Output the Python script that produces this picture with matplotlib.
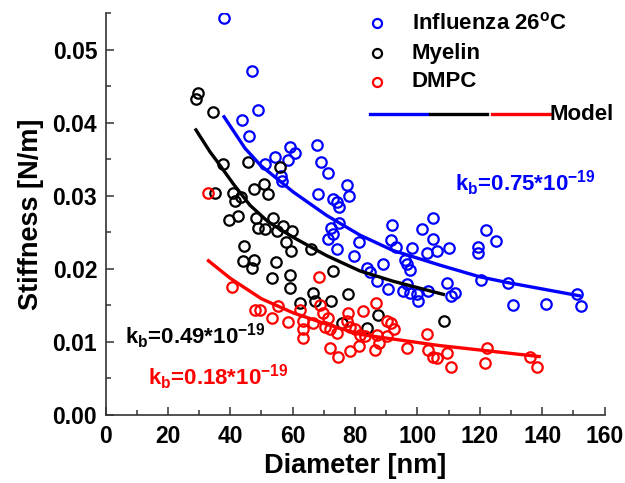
import matplotlib
matplotlib.use('Agg')
import matplotlib.pyplot as plt
from matplotlib.ticker import MultipleLocator

plt.rcParams['font.family'] = ['Liberation Sans', 'DejaVu Sans']
plt.rcParams['font.weight'] = 'bold'
plt.rcParams['mathtext.fontset'] = 'custom'
plt.rcParams['mathtext.rm'] = 'Liberation Sans:bold'
plt.rcParams['mathtext.it'] = 'Liberation Sans:bold'
plt.rcParams['mathtext.bf'] = 'Liberation Sans:bold'
plt.rcParams['mathtext.default'] = 'regular'

# measured vesicles: diameter [nm], stiffness [N/m]
flu_d = [38.1, 46.9, 49.0, 43.6, 46.1, 51.2, 54.3, 58.6, 59.1, 60.7, 67.7, 69.0, 71.4,
         56.2, 56.7, 77.3, 78.1, 68.2, 72.8, 74.1, 74.9, 91.7, 105.1, 101.5, 74.9, 72.2,
         72.8, 71.4, 81.3, 91.4, 93.0, 104.9, 106.2, 98.1, 102.9, 74.1, 79.7, 89.0, 96.0,
         96.7, 97.6, 83.7, 84.8, 86.9, 90.7, 96.5, 97.6, 99.7, 100.3, 103.5, 95.4, 109.4,
         110.6, 112.0, 120.3, 129.1, 130.7, 141.2, 151.0, 152.4, 110.2, 122.0, 125.1,
         119.5, 119.5]
flu_k = [0.0543, 0.0471, 0.0417, 0.0403, 0.0382, 0.0344, 0.0353, 0.0349, 0.0366, 0.0358,
         0.0370, 0.0346, 0.0331, 0.0327, 0.0320, 0.0314, 0.0300, 0.0302, 0.0295, 0.0291,
         0.0284, 0.0260, 0.0269, 0.0255, 0.0262, 0.0256, 0.0247, 0.0241, 0.0237, 0.0240,
         0.0230, 0.0241, 0.0224, 0.0228, 0.0221, 0.0227, 0.0217, 0.0206, 0.0212, 0.0206,
         0.0199, 0.0201, 0.0195, 0.0183, 0.0172, 0.0179, 0.0167, 0.0165, 0.0156, 0.0169,
         0.0169, 0.0180, 0.0163, 0.0167, 0.0185, 0.0181, 0.0150, 0.0152, 0.0165, 0.0149,
         0.0228, 0.0253, 0.0238, 0.0230, 0.0222]

myelin_d = [29.5, 29.0, 34.4, 37.8, 45.8, 35.1, 40.8, 43.3, 41.5, 47.6, 50.8, 52.2, 39.6,
            42.4, 48.2, 49.0, 51.1, 44.4, 44.0, 47.6, 46.9, 55.9, 53.8, 54.9, 57.0, 59.7,
            57.9, 59.4, 65.9, 54.6, 53.3, 59.1, 72.8, 59.1, 66.4, 67.1, 62.3, 72.3, 77.8,
            87.4, 83.7, 75.7, 108.6]
myelin_k = [0.0441, 0.0433, 0.0415, 0.0343, 0.0346, 0.0304, 0.0304, 0.0298, 0.0293, 0.0309,
            0.0316, 0.0302, 0.0267, 0.0272, 0.0269, 0.0256, 0.0255, 0.0231, 0.0211, 0.0212,
            0.0201, 0.0339, 0.0270, 0.0252, 0.0258, 0.0252, 0.0236, 0.0225, 0.0227, 0.0209,
            0.0188, 0.0191, 0.0197, 0.0174, 0.0167, 0.0156, 0.0153, 0.0156, 0.0165, 0.0137,
            0.0119, 0.0126, 0.0128]

dmpc_d = [32.9, 68.5, 40.4, 47.9, 53.3, 49.5, 55.4, 58.6, 62.3, 63.4, 63.4, 63.4, 66.6,
          68.8, 69.8, 71.4, 70.4, 72.0, 74.1, 72.0, 74.6, 77.8, 77.3, 78.4, 80.0, 81.6,
          82.6, 83.2, 81.3, 78.4, 86.7, 86.9, 87.8, 86.4, 90.1, 91.5, 90.3, 92.6, 96.7,
          102.9, 103.5, 105.1, 106.2, 109.4, 110.6, 122.4, 121.6, 136.0, 138.4]
dmpc_k = [0.0304, 0.0189, 0.0175, 0.0143, 0.0133, 0.0144, 0.0149, 0.0127, 0.0144, 0.0128,
          0.0117, 0.0105, 0.0126, 0.0151, 0.0140, 0.0133, 0.0121, 0.0117, 0.0112, 0.0092,
          0.0079, 0.0140, 0.0128, 0.0121, 0.0117, 0.0110, 0.0142, 0.0108, 0.0095, 0.0088,
          0.0153, 0.0110, 0.0098, 0.0089, 0.0128, 0.0126, 0.0108, 0.0117, 0.0092, 0.0111,
          0.0089, 0.0079, 0.0078, 0.0085, 0.0065, 0.0091, 0.0071, 0.0079, 0.0065]

# model curves for each bending rigidity
flu_model_d = [38, 44.7, 49.6, 60.2, 70.9, 81.6, 92.2, 107.2, 120, 129.1, 152]
flu_model_k = [0.0408, 0.0365, 0.0342, 0.0305, 0.0273, 0.0246, 0.0225, 0.0205, 0.0189,
               0.0181, 0.0163]
myelin_model_d = [29, 33.5, 35.6, 41, 46.3, 52.2, 60.2, 70.9, 81.6, 92.2, 108.3]
myelin_model_k = [0.0390, 0.0360, 0.0348, 0.0316, 0.0287, 0.0264, 0.0243, 0.0218, 0.0197,
                  0.0183, 0.0165]
dmpc_model_d = [33, 40, 50, 60, 71, 82, 92, 107, 122, 139]
dmpc_model_k = [0.0211, 0.0187, 0.0159, 0.0140, 0.0124, 0.0110, 0.0104, 0.0095, 0.0088, 0.0080]

series = [
  ('Influenza 26$^\\mathregular{o}$C', flu_d, flu_k, '#0000FF'),
  ('Myelin', myelin_d, myelin_k, '#000000'),
  ('DMPC', dmpc_d, dmpc_k, '#FF0000'),
]
models = [
  (flu_model_d, flu_model_k, '#0000FF'),
  (myelin_model_d, myelin_model_k, '#000000'),
  (dmpc_model_d, dmpc_model_k, '#FF0000'),
]

fig = plt.figure(figsize=(6.25, 4.83), dpi=100)
ax = fig.add_axes([0.1688, 0.1408, 0.7987, 0.8323])

for label, d, k, color in series:
  ax.plot(d, k, 'o', mfc='none', mec=color, ms=7.5, mew=1.6, zorder=2)

for d, k, color in models:
  ax.plot(d, k, '-', color=color, lw=2.4, zorder=3)

ax.set_xlim(0, 160)
ax.set_ylim(0, 0.055)
ax.xaxis.set_major_locator(MultipleLocator(20))
ax.xaxis.set_minor_locator(MultipleLocator(10))
ax.yaxis.set_major_locator(MultipleLocator(0.01))
ax.yaxis.set_minor_locator(MultipleLocator(0.005))
ax.yaxis.set_major_formatter(plt.FuncFormatter(lambda v, p: '%.2f' % v))

for side in ('top', 'right'):
  ax.spines[side].set_visible(False)
for side in ('left', 'bottom'):
  ax.spines[side].set_linewidth(1.2)
  ax.spines[side].set_color('#333333')

ax.tick_params(which='both', direction='in', colors='#333333', width=1.1)
ax.tick_params(which='major', length=6, labelsize=16.5, labelcolor='black')
ax.tick_params(which='minor', length=3.5)
ax.tick_params(axis='x', which='major', pad=7)
ax.tick_params(axis='y', which='major', pad=6)

ax.set_xlabel('Diameter [nm]', fontsize=19.5, fontweight='bold', labelpad=4)
ax.set_ylabel('Stiffness [N/m]', fontsize=19.5, fontweight='bold', labelpad=6)

# hand-built key: one marker row per series, then the three model lines
rows_y = [0.9744, 0.8997, 0.829]
for (label, d, k, color), y in zip(series, rows_y):
  ax.plot([0.5435], [y], 'o', mfc='none', mec=color, ms=6.5, mew=1.6,
          transform=ax.transAxes, clip_on=False)
  ax.text(0.6134, y, label, transform=ax.transAxes, fontsize=16, fontweight='bold',
          va='center', ha='left')

key_segments = [(0.5304, 0.6440, '#0000FF'), (0.6500, 0.7642, '#000000'),
                (0.7742, 0.8904, '#FF0000')]
for x0, x1, color in key_segments:
  ax.plot([x0, x1], [0.748, 0.748], '-', color=color, lw=2.4, transform=ax.transAxes,
          clip_on=False)
ax.text(0.8904, 0.748, 'Model', transform=ax.transAxes, fontsize=16, fontweight='bold',
        va='center', ha='left')

ax.text(112, 0.0307, 'k$_\\mathregular{b}$=0.75*10$^\\mathregular{-19}$', color='#0000FF',
        fontsize=16, fontweight='bold')
ax.text(6.25, 0.00975, 'k$_\\mathregular{b}$=0.49*10$^\\mathregular{-19}$', color='black',
        fontsize=16, fontweight='bold')
ax.text(13.7, 0.0041, 'k$_\\mathregular{b}$=0.18*10$^\\mathregular{-19}$', color='#FF0000',
        fontsize=16, fontweight='bold')

fig.savefig('out.png', dpi=100)
